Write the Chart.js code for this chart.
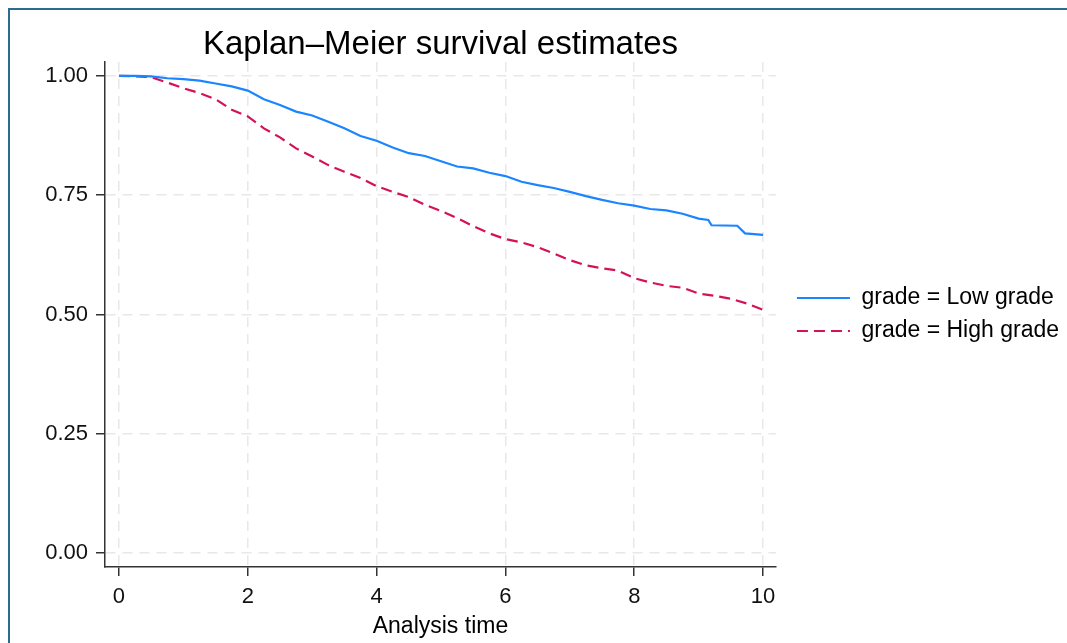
<!DOCTYPE html>
<html>
<head>
<meta charset="utf-8">
<title>Kaplan–Meier survival estimates</title>
<script src="https://cdn.jsdelivr.net/npm/chart.js@4/dist/chart.umd.min.js"></script>
<style>
  html, body { margin: 0; padding: 0; background: #fff; overflow: hidden; }
  #wrap { position: relative; width: 1067px; height: 643px; }
  #frame {
    position: absolute; left: 8px; top: 8px; width: 1100px; height: 700px;
    border-top: 2px solid #2b6d8f; border-left: 2px solid #2b6d8f;
    pointer-events: none;
  }
</style>
</head>
<body>
<div id="wrap">
  <canvas id="km" width="1067" height="643"></canvas>
  <div id="frame"></div>
</div>
<script>
// values
const timeLow = [0, 0.25, 0.5, 0.75, 1, 1.25, 1.5, 1.75, 2, 2.25, 2.5, 2.75, 3, 3.25, 3.5, 3.75,
  4, 4.25, 4.5, 4.75, 5, 5.25, 5.5, 5.75, 6, 6.25, 6.5, 6.75, 7, 7.25, 7.5, 7.75,
  8, 8.25, 8.5, 8.75, 9, 9.15, 9.2, 9.6, 9.72, 10];
const survLow = [1.000, 1.000, 0.999, 0.995, 0.993, 0.990, 0.984, 0.978, 0.969, 0.951, 0.939, 0.925, 0.917, 0.904, 0.890, 0.874,
  0.864, 0.850, 0.838, 0.832, 0.821, 0.810, 0.806, 0.797, 0.790, 0.778, 0.771, 0.765, 0.757, 0.748, 0.740, 0.733,
  0.728, 0.721, 0.718, 0.711, 0.701, 0.698, 0.687, 0.686, 0.670, 0.667];

const timeHigh = [0, 0.25, 0.5, 0.75, 1, 1.25, 1.5, 1.75, 2, 2.25, 2.5, 2.75, 3, 3.25, 3.5, 3.75,
  4, 4.25, 4.5, 4.75, 5, 5.25, 5.5, 5.75, 6, 6.25, 6.5, 6.75, 7, 7.25, 7.5, 7.75,
  8, 8.25, 8.5, 8.75, 9, 9.25, 9.5, 9.75, 10];
const survHigh = [1.000, 0.999, 0.997, 0.986, 0.974, 0.964, 0.951, 0.929, 0.915, 0.890, 0.871, 0.848, 0.831, 0.813, 0.799, 0.786,
  0.769, 0.757, 0.746, 0.730, 0.717, 0.702, 0.685, 0.670, 0.658, 0.651, 0.641, 0.628, 0.614, 0.603, 0.597, 0.592,
  0.576, 0.567, 0.560, 0.556, 0.544, 0.539, 0.533, 0.523, 0.510];

const groupLabels = ["grade = Low grade", "grade = High grade"];
const xTicks = [0, 2, 4, 6, 8, 10];
const yTicks = [0, 0.25, 0.5, 0.75, 1];

function toPoints(ts, ss) {
  return ts.map((t, i) => ({ x: t, y: ss[i] }));
}

Chart.defaults.font.family = '"Liberation Sans", Arial, sans-serif';
Chart.defaults.color = "#111";

const axisColor = "#333";
const gridColor = "#e8e8e8";

new Chart(document.getElementById("km"), {
  type: "line",
  data: {
    datasets: [
      { label: groupLabels[0], data: toPoints(timeLow, survLow), borderColor: "#1a85ff",
        borderWidth: 2.2, pointRadius: 0, fill: false, tension: 0 },
      { label: groupLabels[1], data: toPoints(timeHigh, survHigh), borderColor: "#d41159",
        borderWidth: 2.2, borderDash: [11, 6], pointRadius: 0, fill: false, tension: 0 }
    ]
  },
  options: {
    responsive: false,
    animation: false,
    layout: { padding: { left: 0, top: 0, right: -2, bottom: 0 } },
    plugins: {
      title: {
        display: true, text: "Kaplan–Meier survival estimates", color: "#000",
        fullSize: false, font: { size: 33, weight: "normal" },
        padding: { top: 25.5, bottom: -3.1 }
      },
      legend: {
        position: "right",
        fullSize: false,
        maxWidth: 400,
        labels: {
          usePointStyle: true, pointStyle: "line", pointStyleWidth: 53,
          font: { size: 23 }, color: "#000", padding: 10,
          generateLabels: chart => Chart.defaults.plugins.legend.labels.generateLabels(chart)
            .map((item, i) => Object.assign(item, {
              lineDash: chart.data.datasets[i].borderDash || [],
              lineWidth: 2,
              strokeStyle: chart.data.datasets[i].borderColor
            }))
        }
      },
      tooltip: { enabled: false }
    },
    scales: {
      x: {
        type: "linear", min: -0.217, max: 10.2,
        afterBuildTicks: s => { s.ticks = xTicks.map(v => ({ value: v })); },
        afterFit: s => { s.height = 76; },
        ticks: { font: { size: 22 }, padding: 8, color: "#111" },
        grid: { color: gridColor, lineWidth: 1.5, tickLength: 9, tickColor: axisColor,
                tickWidth: 1.5, tickBorderDash: [] },
        border: { color: axisColor, width: 1.5, dash: [10, 7] },
        title: { display: true, text: "Analysis time", font: { size: 23 }, color: "#000",
                 padding: { top: 0, bottom: 3 } }
      },
      y: {
        type: "linear", min: -0.029, max: 1.029,
        afterBuildTicks: s => { s.ticks = yTicks.map(v => ({ value: v })); },
        afterFit: s => { s.width = 105; },
        ticks: { font: { size: 22 }, padding: 8, color: "#111",
                 callback: v => Number(v).toFixed(2) },
        grid: { color: gridColor, lineWidth: 1.5, tickLength: 9, tickColor: axisColor,
                tickWidth: 1.5, tickBorderDash: [] },
        border: { color: axisColor, width: 1.5, dash: [10, 7] }
      },
      gap: {
        type: "linear", position: "right", display: true,
        ticks: { display: false }, grid: { display: false }, border: { display: false },
        afterFit: s => { s.width = 11; }
      }
    }
  }
});
</script>
</body>
</html>
